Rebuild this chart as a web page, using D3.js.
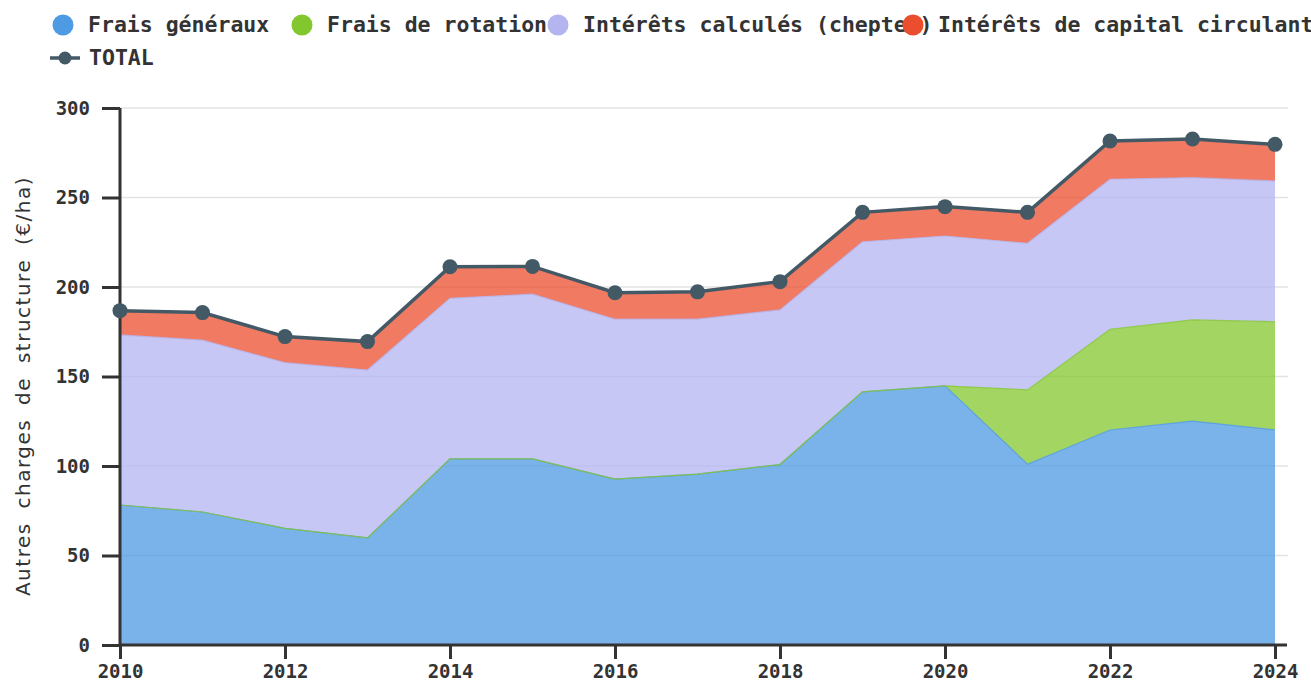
<!DOCTYPE html>
<html>
<head>
<meta charset="utf-8">
<script src="https://cdn.jsdelivr.net/npm/d3@7"></script>
<style>
  body { margin: 0; background: #fff; }
  text { font-family: "DejaVu Sans Mono", monospace; }
</style>
</head>
<body>
<div id="chart"></div>
<script>
// years and stacked series (€/ha)
const years = [2010, 2011, 2012, 2013, 2014, 2015, 2016, 2017, 2018, 2019, 2020, 2021, 2022, 2023, 2024];
const fraisGeneraux = [78.2, 74.3, 65.2, 59.8, 104.0, 104.0, 92.7, 95.5, 100.8, 141.4, 144.8, 101.0, 120.1, 125.1, 120.2];
const fraisRotation = [0, 0, 0, 0, 0, 0, 0, 0, 0, 0, 0, 41.5, 56.3, 56.5, 60.4];
const interetsCheptel = [95.0, 96.0, 92.5, 93.8, 89.7, 92.0, 89.3, 86.5, 86.4, 83.9, 83.7, 81.9, 83.8, 79.5, 78.6];
const interetsCirculant = [13.6, 15.4, 14.6, 15.9, 17.6, 15.5, 14.8, 15.3, 15.8, 16.4, 16.4, 17.3, 21.4, 21.6, 20.5];
const seriesNames = ["Frais généraux", "Frais de rotation", "Intérêts calculés (cheptel)", "Intérêts de capital circulant"];
const colors = ["#4e9ae3", "#83c72e", "#b3b4f0", "#eb4e2e"];
const yTicks = [0, 50, 100, 150, 200, 250, 300];
const xTicks = [2010, 2012, 2014, 2016, 2018, 2020, 2022, 2024];

const width = 1311, height = 682;
const svg = d3.select("#chart").append("svg")
    .attr("width", width)
    .attr("height", height);

const x = d3.scaleLinear().domain([2010, 2024]).range([120, 1275]);
const y = d3.scaleLinear().domain([0, 300]).range([645, 108]);

// build rows for the stack
const rows = years.map((yr, i) => ({
    year: yr,
    s0: fraisGeneraux[i],
    s1: fraisRotation[i],
    s2: interetsCheptel[i],
    s3: interetsCirculant[i]
}));
const stack = d3.stack().keys(["s0", "s1", "s2", "s3"]);
const stacked = stack(rows);
const totals = rows.map(d => d.s0 + d.s1 + d.s2 + d.s3);

// grid
svg.append("g")
    .selectAll("line")
    .data(yTicks.slice(1))
    .enter()
    .append("line")
    .attr("x1", 120)
    .attr("x2", 1288)
    .attr("y1", d => y(d))
    .attr("y2", d => y(d))
    .attr("stroke", "#e3e3e3")
    .attr("stroke-width", 1.5);

const area = d3.area()
    .x(d => x(d.data.year))
    .y0(d => y(d[0]))
    .y1(d => y(d[1]));

const topLine = d3.line()
    .x(d => x(d.data.year))
    .y(d => y(d[1]));

svg.append("g")
    .selectAll("path")
    .data(stacked)
    .enter()
    .append("path")
    .attr("d", area)
    .attr("fill", (d, i) => colors[i])
    .attr("fill-opacity", 0.75);

svg.append("g")
    .selectAll("path")
    .data(stacked)
    .enter()
    .append("path")
    .attr("d", topLine)
    .attr("fill", "none")
    .attr("stroke", (d, i) => colors[i])
    .attr("stroke-opacity", 0.8)
    .attr("stroke-width", 1.2);

// axes
const yAxis = svg.append("g")
    .attr("transform", "translate(120,0)")
    .call(d3.axisLeft(y).tickValues(yTicks).tickSize(18).tickPadding(12));
const xAxis = svg.append("g")
    .attr("transform", "translate(0,645)")
    .call(d3.axisBottom(x).tickValues(xTicks).tickFormat(d3.format("d")).tickSize(14).tickPadding(6));

[yAxis, xAxis].forEach(g => {
    g.select(".domain").attr("stroke", "#333").attr("stroke-width", 3);
    g.selectAll(".tick line").attr("stroke", "#333").attr("stroke-width", 3);
    g.selectAll(".tick text")
        .attr("fill", "#333")
        .style("font-family", "'DejaVu Sans Mono', monospace")
        .style("font-weight", "bold")
        .style("font-size", "19px");
});
yAxis.select(".domain").attr("d", "M0,645V108");
xAxis.select(".domain").attr("d", "M120,0H1287");

// total line
svg.append("path")
    .datum(totals)
    .attr("d", d3.line().x((d, i) => x(years[i])).y(d => y(d)))
    .attr("fill", "none")
    .attr("stroke", "#435a66")
    .attr("stroke-width", 3.5);

svg.append("g")
    .selectAll("circle")
    .data(totals)
    .enter()
    .append("circle")
    .attr("cx", (d, i) => x(years[i]))
    .attr("cy", d => y(d))
    .attr("r", 7.5)
    .attr("fill", "#435a66");

// y axis title
svg.append("text")
    .attr("transform", "translate(30,386) rotate(-90)")
    .attr("text-anchor", "middle")
    .style("font-family", "'DejaVu Sans', sans-serif")
    .style("font-size", "20px")
    .style("letter-spacing", "1.5px")
    .style("word-spacing", "6px")
    .attr("fill", "#333")
    .text("Autres charges de structure (€/ha)");

// legend
const legendX = [63, 302, 558, 913];
const legend = svg.append("g");
seriesNames.forEach(function (name, i) {
    legend.append("circle")
        .attr("cx", legendX[i])
        .attr("cy", 25)
        .attr("r", 10.5)
        .attr("fill", colors[i]);
    legend.append("text")
        .attr("x", legendX[i] + 25)
        .attr("y", 32)
        .style("font-weight", "bold")
        .style("font-size", "21.5px")
        .attr("fill", "#333")
        .text(name);
});
legend.append("line")
    .attr("x1", 50).attr("x2", 80)
    .attr("y1", 58).attr("y2", 58)
    .attr("stroke", "#435a66")
    .attr("stroke-width", 3.5);
legend.append("circle")
    .attr("cx", 65).attr("cy", 58).attr("r", 6.5)
    .attr("fill", "#435a66");
legend.append("text")
    .attr("x", 89)
    .attr("y", 65)
    .style("font-weight", "bold")
    .style("font-size", "21.5px")
    .attr("fill", "#333")
    .text("TOTAL");
</script>
</body>
</html>
